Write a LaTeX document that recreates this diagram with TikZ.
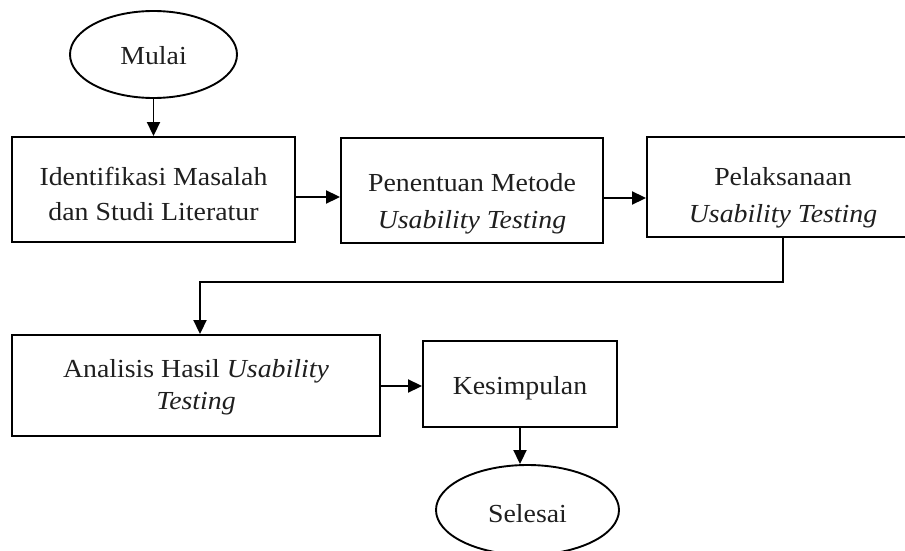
\documentclass[tikz,border=0pt]{standalone}
\usepackage{fontspec}
\setmainfont{Liberation Serif}[FakeStretch=1.07]
\usetikzlibrary{arrows.meta,shapes.geometric}
\newcommand\hstr[1]{\rule{0pt}{#1pt}}
\newcommand\dstr{\rule[-10pt]{0pt}{10pt}}
\tikzset{
  box/.style={draw, line width=1.9pt, rectangle, inner sep=0pt, align=center,
    text=black!88, font=\fontsize{26}{35}\selectfont},
  oval/.style={draw, line width=1.9pt, ellipse, inner sep=0pt, align=center,
    text=black!88, font=\fontsize{26}{35}\selectfont},
  arr/.style={line width=1.9pt, -{Triangle[length=14pt,width=13pt]}}
}
\begin{document}
\begin{tikzpicture}[x=1pt,y=-1pt]
\useasboundingbox (0,0) rectangle (905,551);
\node[oval, minimum width=167pt, minimum height=87pt] (m) at (153.5,54.5) {\hstr{31}Mulai\dstr};
\node[box, minimum width=283pt, minimum height=105pt] (b1) at (153.5,189.5) {\hstr{36}Identifikasi Masalah\\dan Studi Literatur\dstr};
\node[box, minimum width=262pt, minimum height=105pt, font=\fontsize{26}{37}\selectfont] (b2) at (472,190.5) {\hstr{48}Penentuan Metode\\\textit{Usability Testing}\dstr};
\node[box, minimum width=272pt, minimum height=100pt, font=\fontsize{26}{37.5}\selectfont] (b3) at (783,187) {\hstr{43.5}Pelaksanaan\\\textit{Usability Testing}\dstr};
\node[box, minimum width=368pt, minimum height=101pt, font=\fontsize{26}{32}\selectfont] (b4) at (196,385.5) {\hstr{25}Analisis Hasil \textit{Usability}\\\textit{Testing}\dstr};
\node[box, minimum width=194pt, minimum height=86pt] (b5) at (520,384) {\hstr{30}Kesimpulan\dstr};
\node[oval, minimum width=183pt, minimum height=90pt] (s) at (527.5,510) {\hstr{34}Selesai\dstr};
\coordinate (r1) at (0,197);
\coordinate (r2) at (0,198);
\coordinate (r3) at (0,386);
\coordinate (k) at (200,282);
\draw[arr] (m.south) -- (b1.north);
\draw[arr] (b1.east |- r1) -- (b2.west |- r1);
\draw[arr] (b2.east |- r2) -- (b3.west |- r2);
\draw[arr] (b3.south) |- (k) -- (k |- b4.north);
\draw[arr] (b4.east |- r3) -- (b5.west |- r3);
\draw[arr] (b5.south) -- (b5.south |- s.north);
\end{tikzpicture}
\end{document}
